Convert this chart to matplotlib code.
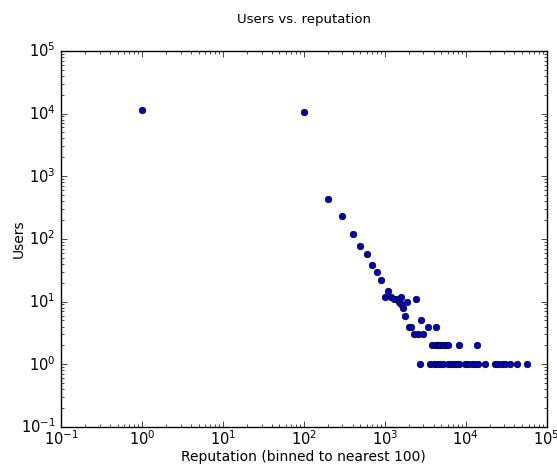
import matplotlib
matplotlib.use("Agg")
import matplotlib.pyplot as plt

plt.style.use("classic")

reputation = [1, 100, 200, 300, 400, 500, 600, 700, 800, 900, 1000, 1100, 1200, 1300,
              1400, 1500, 1600, 1600, 1700, 1800, 1900, 2000, 2100, 2300, 2400, 2600,
              2800, 3000, 3400, 4300,
              3800, 4300, 4600, 4800, 5300, 5700, 6000, 8200, 13900,
              2700, 3600, 4000, 4400, 4800, 5300, 6100, 6600, 7200, 7700, 8300, 9800,
              10700, 11800, 13000, 14300, 17300, 23000, 25200, 27800, 30500, 35200,
              42600, 56600]
users = [11400, 10400, 430, 230, 120, 77, 57, 39, 30, 22, 12, 15, 12, 11,
         11, 10, 12, 9, 8, 6, 10, 4, 4, 3, 11, 3,
         5, 3, 4, 4,
         2, 2, 2, 2, 2, 2, 2, 2, 2,
         1, 1, 1, 1, 1, 1, 1, 1, 1, 1, 1, 1,
         1, 1, 1, 1, 1, 1, 1, 1, 1, 1,
         1, 1]

fig = plt.figure(figsize=(5.57, 4.65), dpi=100, facecolor="white")
ax = fig.add_axes([0.1095, 0.0817, 0.872, 0.809])
ax.set_facecolor("white")
ax.scatter(reputation, users, s=22, c="#0000cc", edgecolors="black", linewidths=0.5, zorder=3)
ax.set_xscale("log")
ax.set_yscale("log")
ax.set_xlim(1e-1, 1e5)
ax.set_ylim(1e-1, 1e5)
ax.set_title("Users vs. reputation", fontsize=9.5, pad=20)
ax.set_xlabel("Reputation (binned to nearest 100)", fontsize=10, labelpad=1)
ax.set_ylabel("Users", fontsize=10, labelpad=-4)
ax.tick_params(axis="both", labelsize=10.5)
ax.tick_params(axis="x", pad=2)

fig.savefig("out.png", dpi=100, facecolor="white")
